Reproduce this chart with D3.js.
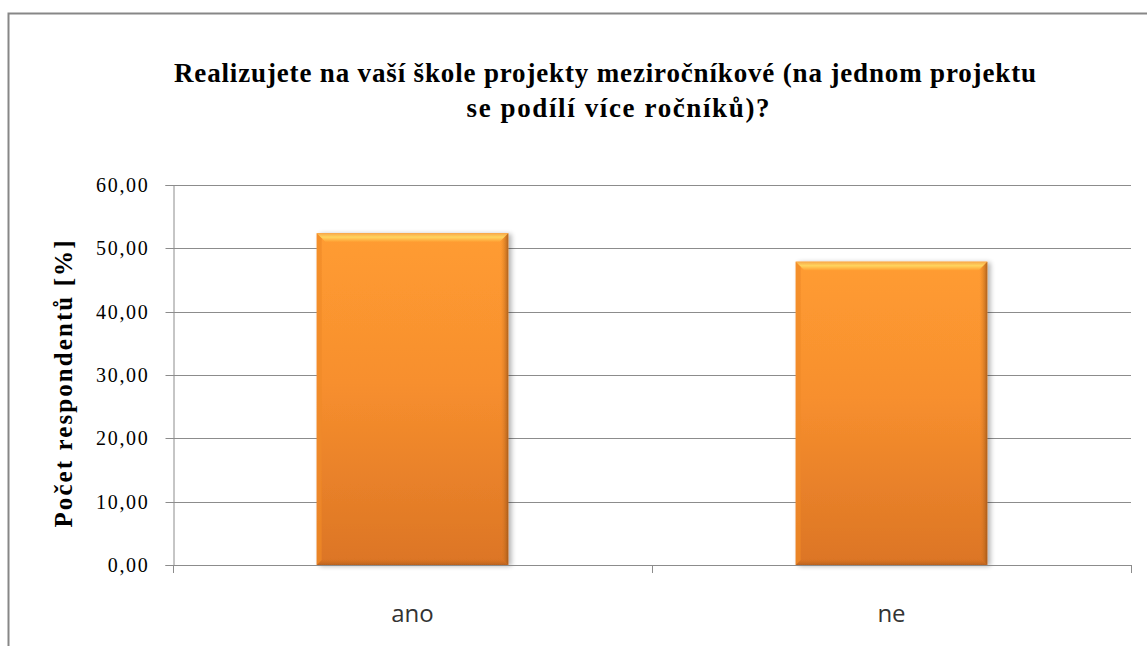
<!DOCTYPE html>
<html>
<head>
<meta charset="utf-8">
<script src="https://cdn.jsdelivr.net/npm/d3@7"></script>
<style>
	body { margin: 0; background: #fff; }
	svg { display: block; }
</style>
</head>
<body>
<svg id="chart" width="1147" height="646"></svg>
<script>
"use strict"

var categories = ["ano", "ne"];
var values     = [52.4, 47.9];
var yticks     = [0, 10, 20, 30, 40, 50, 60];
var titlelines = ["Realizujete na vaší škole projekty meziročníkové (na jednom projektu",
                  "se podílí více ročníků)?"];
var ylabel     = "Počet respondentů [%]";

var W = 1147, H = 646;
var plot = {left: 173, right: 1131, top: 185, bottom: 565};
var SERIF = "'Liberation Serif', 'Times New Roman', serif";

// title line placement: centre x, baseline, stretched width
var titlepos = [{cx: 605, y: 82, w: 862}, {cx: 618, y: 117, w: 303}];

var svg = d3.select("#chart");
var defs = svg.append("defs");

// outer frame, cut off at right and bottom like the picture
svg.append("rect")
   .attr("x", 8.5).attr("y", 13.5)
   .attr("width", W + 20).attr("height", H + 20)
   .style("fill", "none")
   .style("stroke", "#878787")
   .style("stroke-width", 2);

var x = d3.scaleBand()
          .domain(categories)
          .range([plot.left, plot.right])
          .paddingInner(0.6)
          .paddingOuter(0.3);

var y = d3.scaleLinear()
          .domain([0, 60])
          .range([plot.bottom, plot.top]);

// gradients for the bevelled bars
var body = defs.append("linearGradient")
               .attr("id", "barbody")
               .attr("x1", 0).attr("y1", 0).attr("x2", 0).attr("y2", 1);
body.append("stop").attr("offset", "0%").attr("stop-color", "#ff9c31");
body.append("stop").attr("offset", "45%").attr("stop-color", "#f78f2e");
body.append("stop").attr("offset", "100%").attr("stop-color", "#dc7525");

var topedge = defs.append("linearGradient")
                  .attr("id", "bartop")
                  .attr("x1", 0).attr("y1", 0).attr("x2", 0).attr("y2", 1);
topedge.append("stop").attr("offset", "0%").attr("stop-color", "#f7a84a");
topedge.append("stop").attr("offset", "45%").attr("stop-color", "#ffd45e");
topedge.append("stop").attr("offset", "100%").attr("stop-color", "#ff9c31");

var rightedge = defs.append("linearGradient")
                    .attr("id", "barright")
                    .attr("x1", 0).attr("y1", 0).attr("x2", 1).attr("y2", 0);
rightedge.append("stop").attr("offset", "0%").attr("stop-color", "#e98426").attr("stop-opacity", 0);
rightedge.append("stop").attr("offset", "100%").attr("stop-color", "#9a5418");

var bottomedge = defs.append("linearGradient")
                     .attr("id", "barbottom")
                     .attr("x1", 0).attr("y1", 0).attr("x2", 0).attr("y2", 1);
bottomedge.append("stop").attr("offset", "0%").attr("stop-color", "#dc7525").attr("stop-opacity", 0);
bottomedge.append("stop").attr("offset", "100%").attr("stop-color", "#a85a1c");

var shadow = defs.append("filter")
                 .attr("id", "shadow")
                 .attr("x", "-10%").attr("y", "-10%")
                 .attr("width", "130%").attr("height", "130%");
shadow.append("feGaussianBlur").attr("in", "SourceAlpha").attr("stdDeviation", 2.5);
shadow.append("feOffset").attr("dx", 3).attr("dy", 1).attr("result", "blur");
shadow.append("feComponentTransfer").append("feFuncA").attr("type", "linear").attr("slope", 0.3);
var merge = shadow.append("feMerge");
merge.append("feMergeNode");
merge.append("feMergeNode").attr("in", "SourceGraphic");

// gridlines
svg.append("g")
   .selectAll("line")
   .data(yticks.filter(function(d){ return d > 0; }))
   .enter()
   .append("line")
   .attr("x1", plot.left).attr("x2", plot.right)
   .attr("y1", function(d){ return Math.round(y(d)) + 0.5; })
   .attr("y2", function(d){ return Math.round(y(d)) + 0.5; })
   .style("stroke", "#8c8c8c")
   .style("stroke-width", 1);

// y axis
var yaxis = svg.append("g")
               .attr("transform", "translate(" + (plot.left + 0.5) + ",0)")
               .call(d3.axisLeft(y)
                       .tickValues(yticks)
                       .tickSize(8)
                       .tickPadding(16)
                       .tickFormat(function(d){ return d3.format(".2f")(d).replace(".", ","); }));
yaxis.select(".domain").style("stroke", "#8c8c8c");
yaxis.selectAll(".tick line").style("stroke", "#8c8c8c");
yaxis.selectAll(".tick text")
     .style("font-family", SERIF)
     .style("font-size", "20px")
     .style("letter-spacing", "1.7px")
     .style("fill", "#000");
yaxis.selectAll(".tick").attr("transform", function(d){
	return "translate(0," + (Math.round(y(d)) + 0.5) + ")";
});

// bars
var bars = svg.append("g")
              .selectAll("g")
              .data(values)
              .enter()
              .append("g")
              .attr("filter", "url(#shadow)");

bars.append("rect")
    .attr("x", function(d, i){ return x(categories[i]); })
    .attr("y", function(d){ return y(d); })
    .attr("width", x.bandwidth())
    .attr("height", function(d){ return y(0) - y(d); })
    .style("fill", "url(#barbody)");

// top bevel
bars.append("path")
    .attr("d", function(d, i){
    	var x0 = x(categories[i]), x1 = x0 + x.bandwidth(), y0 = y(d), b = 9;
    	return "M" + x0 + "," + y0 + "L" + x1 + "," + y0 + "L" + (x1 - b) + "," + (y0 + b) +
    	       "L" + (x0 + b) + "," + (y0 + b) + "Z";
    })
    .style("fill", "url(#bartop)");

// right bevel
bars.append("path")
    .attr("d", function(d, i){
    	var x0 = x(categories[i]), x1 = x0 + x.bandwidth(), y0 = y(d), y1 = y(0), b = 8;
    	return "M" + x1 + "," + y0 + "L" + x1 + "," + y1 + "L" + (x1 - b) + "," + (y1 - b) +
    	       "L" + (x1 - b) + "," + (y0 + b) + "Z";
    })
    .style("fill", "url(#barright)")
    .style("opacity", 0.8);

// bottom bevel
bars.append("path")
    .attr("d", function(d, i){
    	var x0 = x(categories[i]), x1 = x0 + x.bandwidth(), y1 = y(0), b = 7;
    	return "M" + x0 + "," + y1 + "L" + x1 + "," + y1 + "L" + (x1 - b) + "," + (y1 - b) +
    	       "L" + (x0 + b) + "," + (y1 - b) + "Z";
    })
    .style("fill", "url(#barbottom)")
    .style("opacity", 0.7);

// left bevel
bars.append("path")
    .attr("d", function(d, i){
    	var x0 = x(categories[i]), y0 = y(d), y1 = y(0), b = 5;
    	return "M" + x0 + "," + y0 + "L" + x0 + "," + y1 + "L" + (x0 + b) + "," + (y1 - b) +
    	       "L" + (x0 + b) + "," + (y0 + b) + "Z";
    })
    .style("fill", "#f08a2a")
    .style("opacity", 0.7);

// x axis
svg.append("line")
   .attr("x1", plot.left).attr("x2", plot.right)
   .attr("y1", plot.bottom + 0.5).attr("y2", plot.bottom + 0.5)
   .style("stroke", "#8c8c8c");

svg.append("g")
   .selectAll("line")
   .data(categories.concat(["end"]))
   .enter()
   .append("line")
   .attr("x1", function(d, i){ return Math.round(plot.left + x.step() * i) + 0.5; })
   .attr("x2", function(d, i){ return Math.round(plot.left + x.step() * i) + 0.5; })
   .attr("y1", plot.bottom)
   .attr("y2", plot.bottom + 8)
   .style("stroke", "#8c8c8c");

svg.append("g")
   .selectAll("text")
   .data(categories)
   .enter()
   .append("text")
   .attr("x", function(d){ return x(d) + x.bandwidth() / 2; })
   .attr("y", 622)
   .attr("text-anchor", "middle")
   .style("font-family", "'Open Sans', 'Noto Sans', sans-serif")
   .style("font-size", "24px")
   .style("fill", "#333")
   .text(function(d){ return d; });

// title
svg.append("g")
   .selectAll("text")
   .data(titlelines)
   .enter()
   .append("text")
   .attr("x", function(d, i){ return titlepos[i].cx; })
   .attr("y", function(d, i){ return titlepos[i].y; })
   .attr("text-anchor", "middle")
   .attr("textLength", function(d, i){ return titlepos[i].w; })
   .attr("lengthAdjust", "spacing")
   .style("font-family", SERIF)
   .style("font-weight", "bold")
   .style("font-size", "27px")
   .style("fill", "#000")
   .text(function(d){ return d; });

// y label
svg.append("text")
   .attr("transform", "translate(72,384) rotate(-90)")
   .attr("text-anchor", "middle")
   .attr("textLength", 287)
   .attr("lengthAdjust", "spacing")
   .style("font-family", SERIF)
   .style("font-weight", "bold")
   .style("font-size", "25px")
   .style("fill", "#000")
   .text(ylabel);
</script>
</body>
</html>
